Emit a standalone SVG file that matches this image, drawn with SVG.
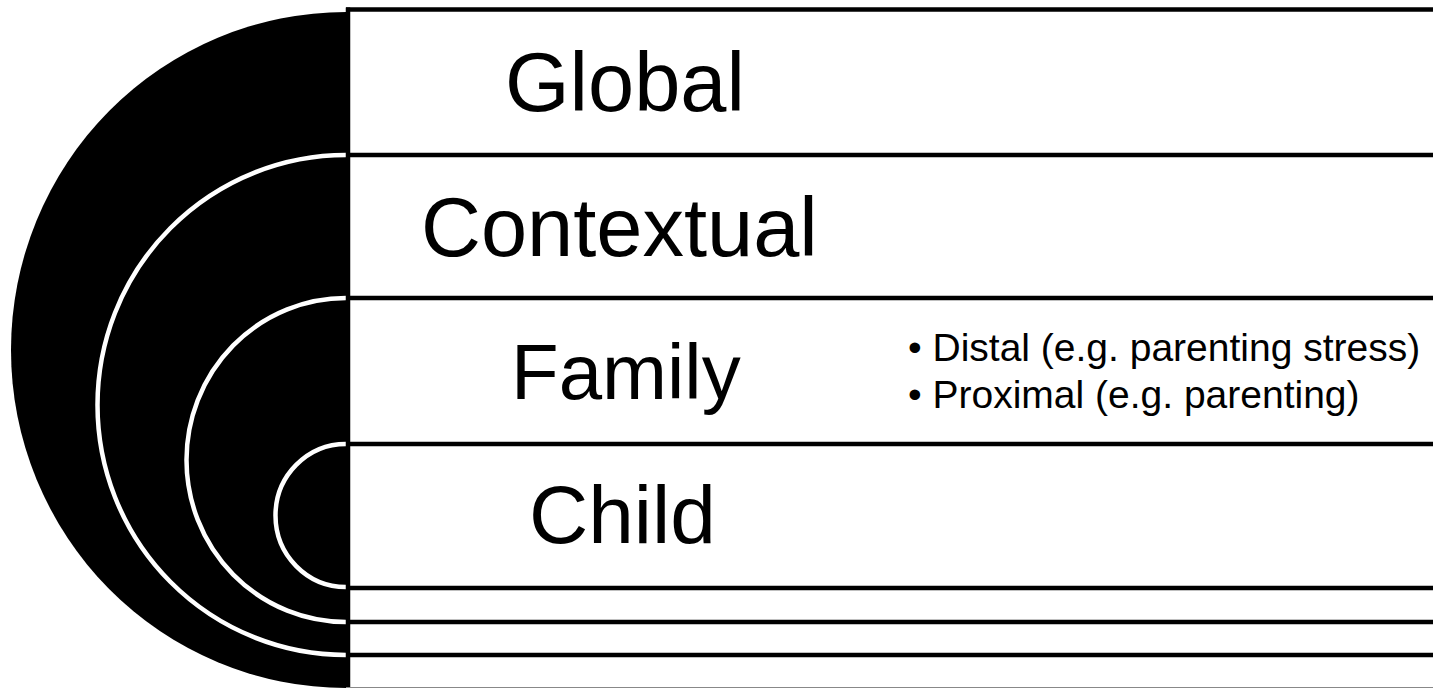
<svg xmlns="http://www.w3.org/2000/svg" width="1433" height="688" viewBox="0 0 1433 688">
  <style>
    .disk { fill: #000; }
    .rim { fill: none; stroke: #fff; stroke-width: 4.5; }
    .rule { stroke: #000; stroke-width: 4.5; fill: none; }
    .label { font-family: "Liberation Sans", Arial, sans-serif; fill: #000; }
    .big { font-size: 83px; }
    .small { font-size: 39px; }
  </style>
  <rect width="1433" height="688" fill="#fff"/>

  <!-- Outer level: Global -->
  <g id="global">
    <path class="disk" d="M346,12 A335,338 0 0 0 346,688 Z"/>
    <text class="label big" x="505" y="111">Global</text>
  </g>

  <!-- Contextual level -->
  <g id="contextual">
    <path class="disk" d="M346,155 A248.5,250 0 0 0 346,655 Z"/>
    <path class="rim" d="M346,155 A248.5,250 0 0 0 346,655"/>
    <text class="label big" x="421" y="256">Contextual</text>
  </g>

  <!-- Family level -->
  <g id="family">
    <path class="disk" d="M346,298 A159.5,162 0 0 0 346,622 Z"/>
    <path class="rim" d="M346,298 A159.5,162 0 0 0 346,622"/>
    <text class="label big" x="511" y="399" style="font-size:78px">Family</text>
    <text class="label small" x="908" y="361">• Distal (e.g. parenting stress)</text>
    <text class="label small" x="908" y="408">• Proximal (e.g. parenting)</text>
  </g>

  <!-- Child level -->
  <g id="child">
    <path class="disk" d="M346,444 A70.5,71.5 0 0 0 346,587 Z"/>
    <path class="rim" d="M346,444 A70.5,71.5 0 0 0 346,587"/>
    <text class="label big" x="529" y="543" style="font-size:82px">Child</text>
  </g>

  <!-- Band boundaries and the spine -->
  <g id="connectors">
    <line class="rule" x1="348" y1="7.5" x2="348" y2="688"/>
    <line class="rule" x1="346" y1="9.5" x2="1433" y2="9.5"/>
    <line class="rule" x1="346" y1="155" x2="1433" y2="155"/>
    <line class="rule" x1="346" y1="298" x2="1433" y2="298"/>
    <line class="rule" x1="346" y1="444" x2="1433" y2="444"/>
    <line class="rule" x1="346" y1="588" x2="1433" y2="588"/>
    <line class="rule" x1="346" y1="622" x2="1433" y2="622"/>
    <line class="rule" x1="346" y1="655" x2="1433" y2="655"/>
    <line x1="346" y1="687.5" x2="1433" y2="687.5" stroke="#888" stroke-width="1"/>
  </g>
</svg>
